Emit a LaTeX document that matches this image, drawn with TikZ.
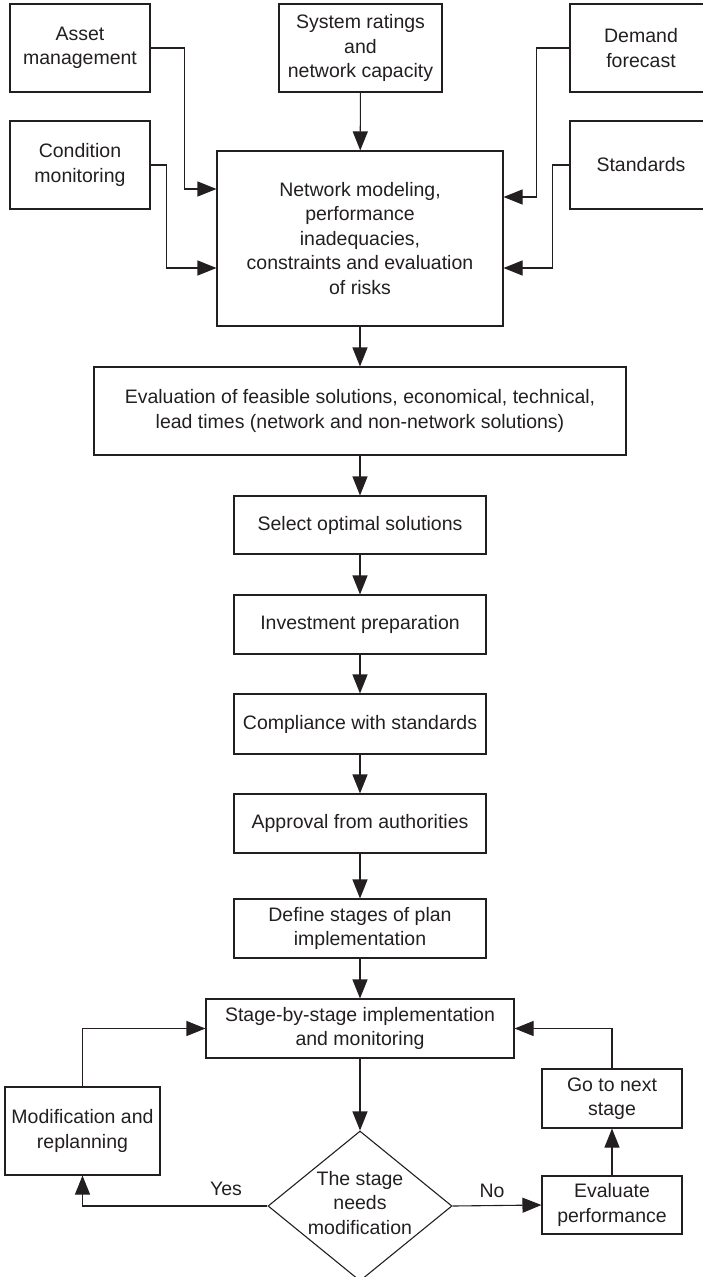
\documentclass[tikz,border=0pt]{standalone}
\usepackage{fontspec}
\setmainfont{Liberation Sans}
\usetikzlibrary{arrows.meta,shapes.geometric}
\definecolor{ink}{RGB}{35,31,32}
\begin{document}
\begin{tikzpicture}[x=1pt,y=-1pt,
  every node/.style={font=\fontsize{19.5}{24.5}\selectfont, text=ink},
  box/.style={draw=ink, line width=1.1pt, align=center, inner sep=0pt},
  arr/.style={draw=ink, line width=1.1pt, -{Triangle[length=19pt,width=15pt]}},
  lbl/.style={inner sep=0pt}]
\useasboundingbox (0,0) rectangle (703,1277);
% top inputs
\node[box, minimum width=140pt, minimum height=88pt] (asset) at (80,48) {Asset\\management};
\node[box, minimum width=163pt, minimum height=88pt] (sys) at (360.5,48) {System ratings\\and\\network capacity};
\node[box, minimum width=142pt, minimum height=88pt] (demand) at (641,48) {Demand\\forecast};
\node[box, minimum width=140pt, minimum height=88pt] (cond) at (80,165) {Condition\\monitoring};
\node[box, minimum width=142pt, minimum height=88pt] (stand) at (641,165) {Standards};
\node[box, minimum width=286pt, minimum height=175pt] (net) at (360,238.5) {Network modeling,\\performance\\inadequacies,\\constraints and evaluation\\of risks};
% main chain
\node[box, minimum width=532pt, minimum height=88pt] (eval) at (360,411) {Evaluation of feasible solutions, economical, technical,\\lead times (network and non-network solutions)};
\node[box, minimum width=252pt, minimum height=58pt] (select) at (360,525) {Select optimal solutions};
\node[box, minimum width=252pt, minimum height=59pt] (invest) at (360,624.5) {Investment preparation};
\node[box, minimum width=252pt, minimum height=60pt] (compl) at (360,724) {Compliance with standards};
\node[box, minimum width=252pt, minimum height=59pt] (approv) at (360,823.5) {Approval from authorities};
\node[box, minimum width=252pt, minimum height=59pt] (define) at (360,928.5) {Define stages of plan\\implementation};
\node[box, minimum width=308pt, minimum height=59pt] (stage) at (360,1028.5) {Stage-by-stage implementation\\and monitoring};
% loop
\node[box, minimum width=155pt, minimum height=88pt] (modif) at (82.5,1131) {Modification and\\replanning};
\node[box, minimum width=140pt, minimum height=59pt] (goto) at (612,1098.5) {Go to next\\stage};
\node[box, minimum width=140pt, minimum height=58pt] (evalp) at (612,1205) {Evaluate\\performance};
\node[draw=ink, line width=1.1pt, diamond, minimum width=184pt, minimum height=150pt, inner sep=0pt,
  label={[name=dectext, align=center, inner sep=0pt, yshift=3pt]center:The stage\\needs\\modification}] (dec) at (360,1206) {};
\node[lbl] (yes) at (226,1189) {Yes};
\node[lbl] (no) at (492,1191) {No};
% connectors
\draw[arr] (asset.east) -- ++(34,0) |- ([yshift=49.5pt]net.west);
\draw[arr] (cond.east) -- ++(16,0) |- ([yshift=-29.5pt]net.west);
\draw[arr] (sys) -- (net);
\draw[arr] (demand.west) -- ++(-33,0) |- ([yshift=41.5pt]net.east);
\draw[arr] (stand.west) -- ++(-17,0) |- ([yshift=-29.5pt]net.east);
\draw[arr] (net) -- (eval);
\draw[arr] (eval) -- (select);
\draw[arr] (select) -- (invest);
\draw[arr] (invest) -- (compl);
\draw[arr] (compl) -- (approv);
\draw[arr] (approv) -- (define);
\draw[arr] (define) -- (stage);
\draw[arr] (stage) -- (dec.north);
\draw[arr] (dec.west) -| (modif.south);
\draw[arr] (modif.north) |- (stage.west);
\draw[arr] (dec.east) -- (evalp.west);
\draw[arr] (evalp) -- (goto);
\draw[arr] (goto.north) |- (stage.east);
\end{tikzpicture}
\end{document}
